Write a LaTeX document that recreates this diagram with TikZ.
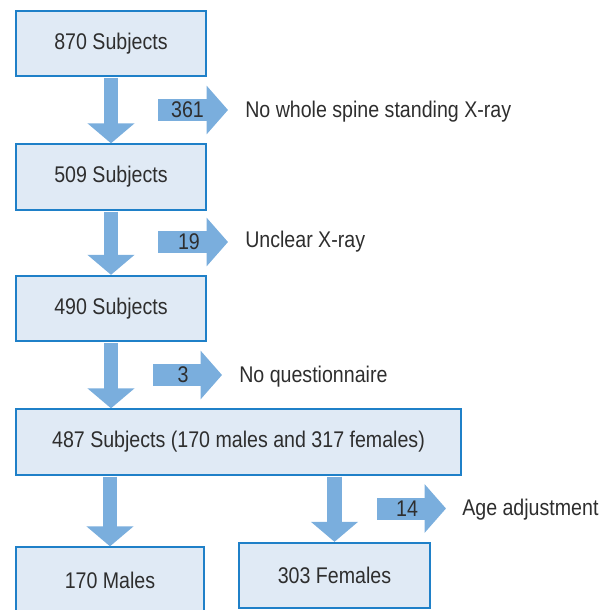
\documentclass[tikz,border=0pt]{standalone}
\usepackage{fontspec}
\setmainfont[FakeStretch=0.865]{Liberation Sans}
\usetikzlibrary{arrows.meta}

\definecolor{boxfill}{HTML}{E0EAF5}
\definecolor{boxline}{HTML}{1F80C8}
\definecolor{arrowblue}{HTML}{7AAEDD}
\definecolor{textgray}{HTML}{2E2E2E}

\begin{document}
\begin{tikzpicture}[x=0.75pt, y=-0.75pt]

\tikzset{box/.style = {draw=boxline, fill=boxfill, line width=1.5pt, inner sep=0pt,
  minimum width=142.5pt, minimum height=49pt, font=\fontsize{17}{20}\selectfont, text=textgray}}
\tikzset{note/.style = {anchor=west, inner sep=0pt, font=\fontsize{17}{20}\selectfont, text=textgray}}
\tikzset{num/.style = {inner sep=0pt, font=\fontsize{17}{20}\selectfont, text=textgray}}
\tikzset{downarrow/.style = {draw=arrowblue, line width=11pt, shorten <=0.75pt,
  -{Triangle[length=15pt, width=34.5pt]}}}
\tikzset{sidearrow/.style = {draw=arrowblue, line width=16.5pt,
  -{Triangle[length=16pt, width=35.5pt]}}}

\useasboundingbox (0,0) rectangle (610,610);

%boxes
\node[box] (s870) at (111,43.5) {870 Subjects};
\node[box] (s509) at (111,177) {509 Subjects};
\node[box] (s490) at (111,308.5) {490 Subjects};
\node[box, minimum width=333.5pt] (s487) at (238.5,442) {487 Subjects (170 males and 317 females)};
\node[box, minimum width=141.5pt] (males) at (110,580) {170 Males};
\node[box, minimum width=143pt] (females) at (334.5,575.5) {303 Females};

%down arrows
\draw[downarrow] (s870) -- (s509);
\draw[downarrow] (s509) -- (s490);
\draw[downarrow] (s490.south) -- (s490.south |- s487.north);
\draw[downarrow] (males.north |- s487.south) -- (males.north);
\draw[downarrow] (females.north |- s487.south) -- (females.north);

%exclusions
\coordinate (x1s) at (158,110);
\coordinate (x1e) at (228,110);
\coordinate (x2s) at (158,242);
\coordinate (x2e) at (228,242);
\coordinate (x3s) at (153,375);
\coordinate (x3e) at (222,375);
\coordinate (x4s) at (377,508.5);
\coordinate (x4e) at (446,508.5);
\draw[sidearrow] (x1s) -- (x1e);
\draw[sidearrow] (x2s) -- (x2e);
\draw[sidearrow] (x3s) -- (x3e);
\draw[sidearrow] (x4s) -- (x4e);
\node[num] (n361) at (187.5,110) {361};
\node[num] (n19) at (189,242) {19};
\node[num] (n3) at (183,375) {3};
\node[num] (n14) at (407,508.5) {14};
\node[note] (noxray) at (245,112) {No whole spine standing X-ray};
\node[note] (unclear) at (245,242) {Unclear X-ray};
\node[note] (noquest) at (239,377) {No questionnaire};
\node[note] (ageadj) at (462,510) {Age adjustment};

\end{tikzpicture}
\end{document}
